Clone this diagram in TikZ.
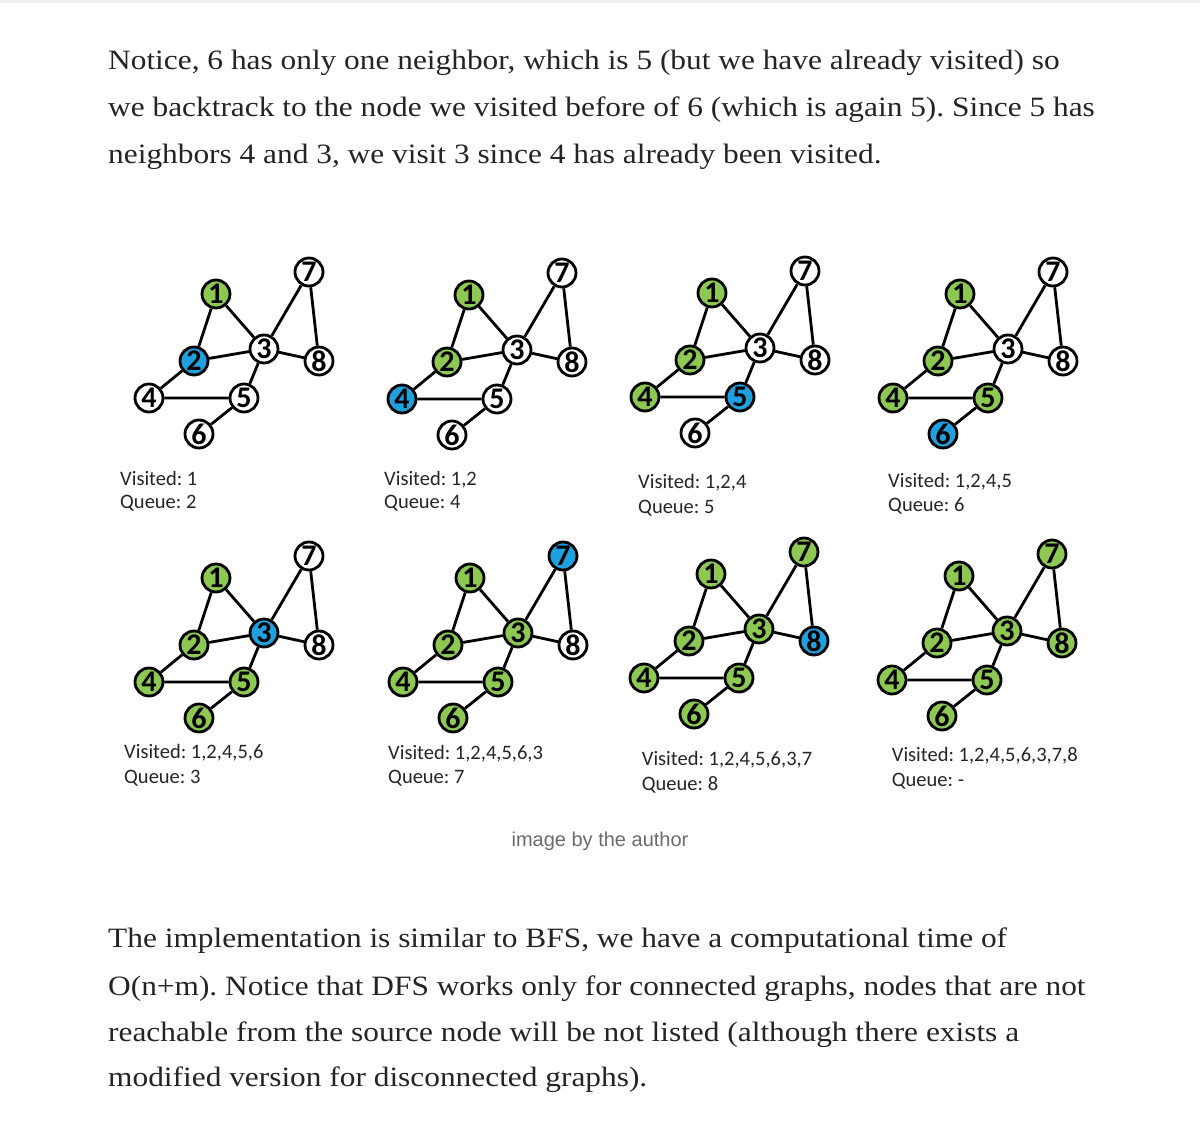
\documentclass[tikz,border=0pt]{standalone}
\usepackage{fontspec}
\setmainfont[FakeStretch=1.12]{Liberation Serif}
\newfontfamily\labelfont{Carlito}
\newfontfamily\capfont{Liberation Sans}
\usetikzlibrary{positioning}
\definecolor{seenGreen}{HTML}{8DC853}
\definecolor{curBlue}{HTML}{1FA0DF}
\definecolor{capGray}{HTML}{6B6B6B}
\definecolor{inkBlack}{HTML}{242424}
\definecolor{ruleGray}{HTML}{F0F0F0}

\tikzset{
  vtx/.style={circle,draw=black,line width=2.8pt,fill=white,minimum size=28pt,
    inner sep=0pt,font=\labelfont\bfseries\fontsize{30}{30}\selectfont},
  seen/.style={fill=seenGreen},
  cur/.style={fill=curBlue},
  edge/.style={line width=2.8pt},
  lbl/.style={anchor=base west,inner sep=0pt,
    font=\labelfont\fontsize{20.5}{24}\selectfont,text=black!85},
  body/.style={anchor=base west,inner sep=0pt,
    font=\fontsize{28}{47}\selectfont,text=inkBlack}
}

% #1 name prefix, #2..#9 extra style of vertex 1..8
\newcommand{\dfsgraph}[9]{%
  \node[vtx,#5] (#1-4) at (0,0) {4};
  \node[vtx,#3] (#1-2) at (45,-37) {2};
  \node[vtx,#2] (#1-1) at (67,-104) {1};
  \node[vtx,#4] (#1-3) at (115,-49) {3};
  \node[vtx,#8] (#1-7) at (160,-126) {7};
  \node[vtx,#9] (#1-8) at (170,-37) {8};
  \node[vtx,#6] (#1-5) at (95,0) {5};
  \node[vtx,#7] (#1-6) at (50,36) {6};
  \draw[edge] (#1-1) -- (#1-2) (#1-1) -- (#1-3) (#1-2) -- (#1-3)
    (#1-2) -- (#1-4) (#1-4) -- (#1-5) (#1-5) -- (#1-6) (#1-3) -- (#1-5)
    (#1-3) -- (#1-7) (#1-3) -- (#1-8) (#1-7) -- (#1-8);
}

\begin{document}
\frenchspacing
\begin{tikzpicture}[x=1pt,y=-1pt]
\fill[white] (0,0) rectangle (1200,1129);
\useasboundingbox (0,0) rectangle (1200,1129);
\draw[ruleGray,line width=3pt] (0,2) -- (1200,2);

\node[body] (top1) at (108,70) {Notice, 6 has only one neighbor, which is 5 (but we have already visited) so};
\node[body] (top2) at (108,116.7) {we backtrack to the node we visited before of 6 (which is again 5). Since 5 has};
\node[body] (top3) at (108,163.3) {neighbors 4 and 3, we visit 3 since 4 has already been visited.};

% first row
\begin{scope}[shift={(149,398)}]
  \dfsgraph{ga}{seen}{cur}{}{}{}{}{}{}
\end{scope}
\begin{scope}[shift={(402,399)}]
  \dfsgraph{gb}{seen}{seen}{}{cur}{}{}{}{}
\end{scope}
\begin{scope}[shift={(645,397)}]
  \dfsgraph{gc}{seen}{seen}{}{seen}{cur}{}{}{}
\end{scope}
\begin{scope}[shift={(893,398)}]
  \dfsgraph{gd}{seen}{seen}{}{seen}{seen}{cur}{}{}
\end{scope}
\node[lbl] (ga-vis) at (120,485) {Visited: 1};
\node[lbl] (ga-que) at (120,508) {Queue: 2};
\node[lbl] (gb-vis) at (384,485.7) {Visited: 1,2};
\node[lbl] (gb-que) at (384,508) {Queue: 4};
\node[lbl] (gc-vis) at (638,488.3) {Visited: 1,2,4};
\node[lbl] (gc-que) at (638,513) {Queue: 5};
\node[lbl] (gd-vis) at (888,487.3) {Visited: 1,2,4,5};
\node[lbl] (gd-que) at (888,511.7) {Queue: 6};

% second row
\begin{scope}[shift={(149,682)}]
  \dfsgraph{ge}{seen}{seen}{cur}{seen}{seen}{seen}{}{}
\end{scope}
\begin{scope}[shift={(403,682)}]
  \dfsgraph{gf}{seen}{seen}{seen}{seen}{seen}{seen}{cur}{}
\end{scope}
\begin{scope}[shift={(644,678)}]
  \dfsgraph{gg}{seen}{seen}{seen}{seen}{seen}{seen}{seen}{cur}
\end{scope}
\begin{scope}[shift={(892,680)}]
  \dfsgraph{gh}{seen}{seen}{seen}{seen}{seen}{seen}{seen}{seen}
\end{scope}
\node[lbl] (ge-vis) at (124,758.3) {Visited: 1,2,4,5,6};
\node[lbl] (ge-que) at (124,783.3) {Queue: 3};
\node[lbl] (gf-vis) at (388,759) {Visited: 1,2,4,5,6,3};
\node[lbl] (gf-que) at (388,783.3) {Queue: 7};
\node[lbl] (gg-vis) at (641.7,765.7) {Visited: 1,2,4,5,6,3,7};
\node[lbl] (gg-que) at (641.7,790.7) {Queue: 8};
\node[lbl] (gh-vis) at (891.7,761.7) {Visited: 1,2,4,5,6,3,7,8};
\node[lbl] (gh-que) at (891.7,786.7) {Queue: -};

\node[anchor=base,inner sep=0pt,font=\capfont\fontsize{20}{24}\selectfont,
  text=capGray] (cap) at (600,846.7) {image by the author};

\node[body] (bot1) at (108,947.3) {The implementation is similar to BFS, we have a computational time of};
\node[body] (bot2) at (108,995) {O(n+m). Notice that DFS works only for connected graphs, nodes that are not};
\node[body] (bot3) at (108,1041.7) {reachable from the source node will be not listed (although there exists a};
\node[body] (bot4) at (108,1086.7) {modified version for disconnected graphs).};
\end{tikzpicture}
\end{document}
